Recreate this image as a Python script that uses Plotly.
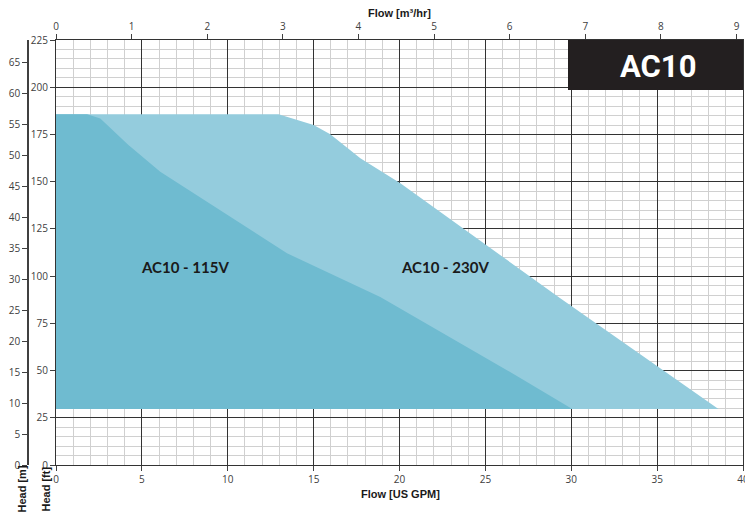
import plotly.graph_objects as go

# ---- data (flow in US GPM, head in ft) ----
gpm_230 = [0, 12.96, 15.0, 15.97, 17.72, 20.05, 29.36, 38.57, 0]
ft_230 = [185.7, 185.7, 180.0, 175.1, 162.4, 149.1, 88.3, 29.6, 29.6]

gpm_115 = [0, 1.81, 2.58, 4.2, 6.07, 8.21, 13.45, 18.88, 27.03, 30.06, 0]
ft_115 = [185.7, 185.7, 183.5, 169.5, 155.3, 142.9, 112.1, 88.9, 46.1, 29.6, 29.6]

series_names = ["AC10 - 230V", "AC10 - 115V"]
label_gpm = [22.65, 7.51]
label_ft = [104.6, 104.6]

gpm_ticks = list(range(0, 41, 5))
ft_ticks = list(range(0, 226, 25))
m_ticks = list(range(0, 66, 5))
m3h_ticks = list(range(0, 10))

FT_PER_M = 3.28084
GPM_PER_M3H = 4.40287
GPM_MAX = 40
FT_MAX = 225

# ---- layout geometry ----
W, H = 745, 514
L_PX, R_PX = 56, 743
T, B = 40, 49
PH = H - T - B


def px_x(p):
    return p / W


def px_y(p):
    return (H - B - p) / PH


fig = go.Figure()

fig.add_trace(go.Scatter(x=gpm_230, y=ft_230, fill="toself", mode="lines",
                         line=dict(width=0), fillcolor="rgb(148,204,221)",
                         hoverinfo="skip", showlegend=False, name=series_names[0]))
fig.add_trace(go.Scatter(x=gpm_115, y=ft_115, fill="toself", mode="lines",
                         line=dict(width=0), fillcolor="rgb(111,187,208)",
                         hoverinfo="skip", showlegend=False, name=series_names[1]))
# carrier for the secondary axes
fig.add_trace(go.Scatter(x=[None], y=[None], xaxis="x2", yaxis="y2",
                         hoverinfo="skip", showlegend=False))

tickfont = dict(family="Open Sans", size=10, color="#404040")
major = "#333333"
minor = "#d0d0d0"

fig.update_layout(
    width=W, height=H,
    margin=dict(l=0, r=0, t=T, b=B, autoexpand=False),
    paper_bgcolor="white", plot_bgcolor="white",
    xaxis=dict(domain=[px_x(L_PX), px_x(R_PX)], range=[0, GPM_MAX],
               tickvals=gpm_ticks, ticks="outside", ticklen=5, tickcolor="#404040",
               tickfont=tickfont, showgrid=True, gridcolor=major, gridwidth=1,
               minor=dict(dtick=1, showgrid=True, gridcolor=minor, gridwidth=1),
               showline=True, linecolor=major, linewidth=1, mirror=True,
               zeroline=False, anchor="y", automargin=False,
               ticklabeloverflow="allow"),
    yaxis=dict(range=[0, FT_MAX], tickvals=ft_ticks, ticks="outside", ticklen=5,
               tickcolor="#404040", tickfont=tickfont, showgrid=True,
               gridcolor=major, gridwidth=1,
               minor=dict(dtick=5, showgrid=True, gridcolor=minor, gridwidth=1),
               showline=True, linecolor=major, linewidth=1, mirror=True,
               zeroline=False, anchor="x", automargin=False),
    xaxis2=dict(overlaying="x", side="top", anchor="y",
                range=[0, GPM_MAX / GPM_PER_M3H], tickvals=m3h_ticks,
                ticks="outside", ticklen=5, tickcolor="#404040", tickfont=tickfont,
                showgrid=False, zeroline=False, showline=False, automargin=False,
                ticklabeloverflow="allow"),
    yaxis2=dict(overlaying="y", side="left", anchor="free", position=px_x(28),
                range=[0, FT_MAX / FT_PER_M], tickvals=m_ticks, ticks="outside",
                ticklen=5, tickcolor="#404040", tickfont=tickfont, showgrid=False,
                zeroline=False, showline=True, linecolor="#404040", linewidth=1.5,
                automargin=False),
)

title_font = dict(family="Liberation Sans", size=11, color="#1a1a1a")
c = dict(xanchor="center", yanchor="middle", showarrow=False)
ann = []
ann.append(dict(text="<b>Flow [m³/hr]</b>", xref="paper", yref="paper",
                x=px_x(399), y=px_y(13), font=title_font, **c))
ann.append(dict(text="<b>Flow [US GPM]</b>", xref="paper", yref="paper",
                x=px_x(400), y=px_y(494), font=title_font, **c))
ann.append(dict(text="<b>Head [m]</b>", xref="paper", yref="paper", textangle=-90,
                x=px_x(21.5), y=px_y(489), font=title_font, **c))
ann.append(dict(text="<b>Head [ft]</b>", xref="paper", yref="paper", textangle=-90,
                x=px_x(45.5), y=px_y(489), font=title_font, **c))
for name, gx, fy in zip(series_names, label_gpm, label_ft):
    ann.append(dict(text="<b>%s</b>" % name, x=gx, y=fy, xref="x", yref="y",
                    font=dict(family="Lato", size=15, color="#1a1a1a"), **c))
ann.append(dict(text="<b>AC10</b>", xref="paper", yref="paper",
                x=px_x(658), y=px_y(66),
                font=dict(family="Roboto", size=31, color="white"), **c))
fig.update_layout(annotations=ann)

fig.add_shape(type="rect", xref="paper", yref="paper",
              x0=px_x(568), x1=px_x(743), y0=px_y(90), y1=px_y(40),
              fillcolor="#231f20", line=dict(width=0), layer="above")

fig.write_html("out.html", config={"displayModeBar": False},
               post_script="document.body.style.margin='0';")
